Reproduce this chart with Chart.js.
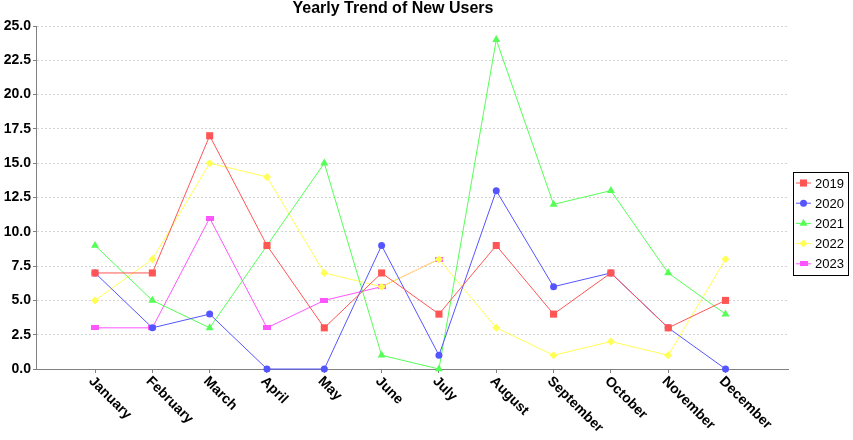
<!DOCTYPE html>
<html lang="en">
<head>
    <meta charset="UTF-8">
    <title>Yearly Trend of New Users</title>
    <script src="https://cdn.jsdelivr.net/npm/chart.js"></script>
    <style>
        body { margin: 0; background: #fff; }
    </style>
</head>
<body>
    <canvas id="trend-chart" width="853" height="440"></canvas>

    <script>
        // Data
        const months = ['January', 'February', 'March', 'April', 'May', 'June',
                        'July', 'August', 'September', 'October', 'November', 'December'];
        const years = ['2019', '2020', '2021', '2022', '2023'];
        const users2019 = [7, 7, 17, 9, 3, 7, 4, 9, 4, 7, 3, 5];
        const users2020 = [7, 3, 4, 0, 0, 9, 1, 13, 6, 7, 3, 0];
        const users2021 = [9, 5, 3, 9, 15, 1, 0, 24, 12, 13, 7, 4];
        const users2022 = [5, 8, 15, 14, 7, 6, 8, 3, 1, 2, 1, 8];
        const users2023 = [3, 3, 11, 3, 5, 6, 8];

        // small wide rectangle marker for 2023
        const pinkMark = document.createElement('canvas');
        pinkMark.width = 8;
        pinkMark.height = 5;
        const pm = pinkMark.getContext('2d');
        pm.fillStyle = '#FF55FF';
        pm.fillRect(0, 0, 8, 5);

        const seriesStyle = [
            { color: '#FF5555', style: 'rect', radius: 5 },
            { color: '#5555FF', style: 'circle', radius: 3.5 },
            { color: '#55FF55', style: 'triangle', radius: 4.6 },
            { color: '#FFFF55', style: 'rectRot', radius: 4 },
            { color: '#FF55FF', style: pinkMark, radius: 4 }
        ];
        const seriesValues = [users2019, users2020, users2021, users2022, users2023];

        const datasets = years.map((year, k) => ({
            label: year,
            data: seriesValues[k].map((v, i) => ({ x: i, y: v })),
            borderColor: seriesStyle[k].color,
            backgroundColor: seriesStyle[k].color,
            borderWidth: 1,
            pointStyle: seriesStyle[k].style,
            pointRadius: seriesStyle[k].radius,
            pointHoverRadius: seriesStyle[k].radius,
            pointBorderWidth: 0,
            tension: 0,
            fill: false,
            clip: false
        }));

        // title, rotated month labels and boxed legend
        const extras = {
            id: 'extras',
            afterDraw(chart) {
                const ctx = chart.ctx;
                const xs = chart.scales.x;
                const area = chart.chartArea;

                ctx.save();
                ctx.fillStyle = '#000';
                ctx.font = 'bold 16px "Liberation Sans", Arial, sans-serif';
                ctx.textAlign = 'center';
                ctx.textBaseline = 'middle';
                ctx.fillText('Yearly Trend of New Users', 393, 9);

                ctx.font = 'bold 14px "Liberation Sans", Arial, sans-serif';
                ctx.textAlign = 'left';
                months.forEach((m, i) => {
                    const x = xs.getPixelForValue(i);
                    ctx.save();
                    ctx.translate(x - 4, area.bottom + 10);
                    ctx.rotate(Math.PI / 4);
                    ctx.fillText(m, 0, 0);
                    ctx.restore();
                });

                // legend
                ctx.strokeStyle = '#000';
                ctx.lineWidth = 1;
                ctx.strokeRect(793.5, 172.5, 55, 103);
                ctx.font = '13px "Liberation Sans", Arial, sans-serif';
                ctx.textBaseline = 'middle';
                years.forEach((year, k) => {
                    const y = 183 + k * 20.2;
                    const s = seriesStyle[k];
                    ctx.strokeStyle = s.color;
                    ctx.fillStyle = s.color;
                    ctx.beginPath();
                    ctx.moveTo(796, y);
                    ctx.lineTo(811, y);
                    ctx.stroke();
                    Chart.helpers.drawPoint(ctx, {
                        pointStyle: s.style, radius: s.radius, rotation: 0, borderWidth: 0
                    }, 803.5, y);
                    ctx.fillStyle = '#000';
                    ctx.fillText(year, 815, y + 1);
                });
                ctx.restore();
            }
        };

        new Chart(document.getElementById('trend-chart'), {
            type: 'line',
            data: { datasets: datasets },
            options: {
                responsive: false,
                animation: false,
                events: [],
                layout: { padding: { top: 26, right: 65, left: 0, bottom: 0 } },
                plugins: {
                    legend: { display: false },
                    title: { display: false },
                    tooltip: { enabled: false }
                },
                scales: {
                    x: {
                        type: 'linear',
                        min: -1.03,
                        max: 12.09,
                        afterBuildTicks: (scale) => {
                            scale.ticks = months.map((m, i) => ({ value: i }));
                        },
                        afterFit: (scale) => { scale.height = 71; },
                        ticks: { display: false },
                        grid: {
                            drawOnChartArea: false,
                            tickLength: 4,
                            tickColor: '#808080'
                        },
                        border: { color: '#808080', width: 1 }
                    },
                    y: {
                        min: 0,
                        max: 25,
                        afterFit: (scale) => { scale.width = 36; },
                        ticks: {
                            stepSize: 2.5,
                            padding: 2,
                            color: '#000',
                            font: { family: '"Liberation Sans", Arial, sans-serif', size: 14, weight: 'bold' },
                            callback: (v) => v.toFixed(1)
                        },
                        grid: {
                            color: '#d4d4d4',
                            tickLength: 3,
                            tickColor: '#808080',
                            tickBorderDash: []
                        },
                        border: { color: '#808080', width: 1, dash: [2, 2] }
                    }
                }
            },
            plugins: [extras]
        });
    </script>
</body>
</html>
